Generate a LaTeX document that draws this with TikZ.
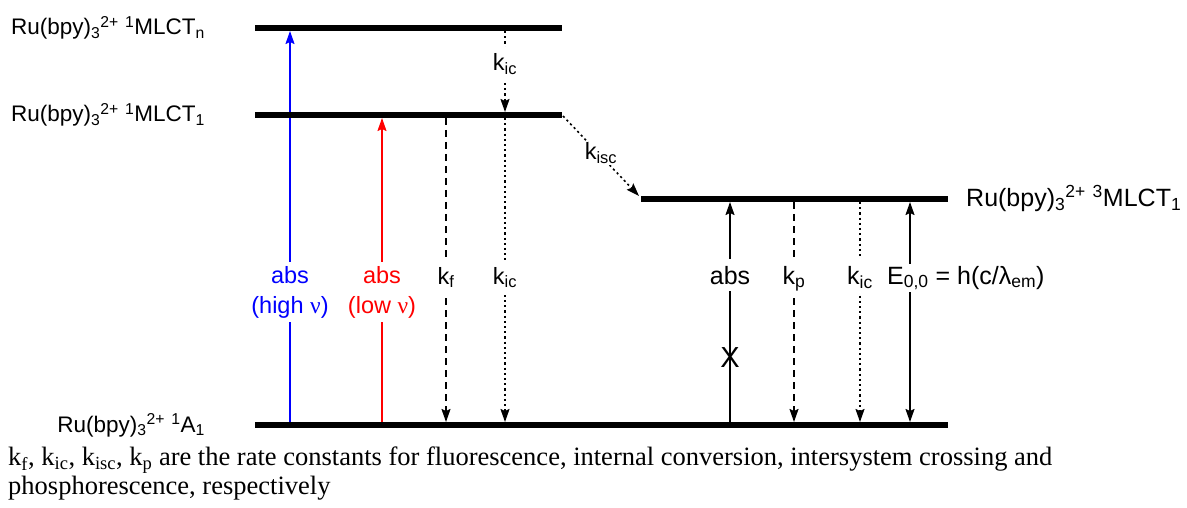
\documentclass[tikz,border=0pt]{standalone}
\usepackage{fontspec}
\setmainfont{Liberation Sans}
\newfontfamily\capfont{Liberation Serif}
\usetikzlibrary{arrows.meta}
\newcommand\lsub[1]{\textsubscript{#1}}
\newcommand\lsup[1]{\textsuperscript{#1}}
\newcommand\gnu{{\capfont ν}}
\tikzset{
  level/.style={line width=6pt},
  arr/.style={line width=1.6pt,-{Stealth[length=13pt,width=9pt,inset=2pt]}},
  darr/.style={line width=1.6pt,{Stealth[length=13pt,width=9pt,inset=2pt]}-{Stealth[length=13pt,width=9pt,inset=2pt]}},
  dashedarr/.style={arr,dash pattern=on 7pt off 5pt},
  dottedarr/.style={arr,dash pattern=on 2.2pt off 3pt},
  lvlabel/.style={inner sep=0pt},
  bigfont/.style={font=\fontsize{25}{30}\selectfont},
  rlabel/.style={fill=white,inner xsep=1pt,inner ysep=7pt,anchor=base},
  rlabel2/.style={fill=white,inner xsep=1pt,inner ysep=4pt,align=center},
}
\begin{document}
\begin{tikzpicture}[x=1pt,y=-1pt,font=\fontsize{23.5}{30}\selectfont]
\useasboundingbox (0,0) rectangle (1187,508);
% level coordinates
\coordinate (nL) at (255,28);  \coordinate (nR) at (562,28);
\coordinate (oL) at (255,115); \coordinate (oR) at (562,115);
\coordinate (tL) at (641,199); \coordinate (tR) at (948,199);
\coordinate (gL) at (255,425); \coordinate (gR) at (948,425);
% arrow end points
\coordinate (b0) at (290,425); \coordinate (b1) at (290,31);
\coordinate (r0) at (382,425); \coordinate (r1) at (382,118);
\coordinate (f0) at (446,118); \coordinate (f1) at (446,422);
\coordinate (i0) at (505,31);  \coordinate (i1) at (505,112);
\coordinate (j0) at (505,118); \coordinate (j1) at (505,422);
\coordinate (s0) at (563,116); \coordinate (s1) at (639,196);
\coordinate (a0) at (730,425); \coordinate (a1) at (730,202);
\coordinate (p0) at (794,202); \coordinate (p1) at (794,422);
\coordinate (c0) at (860,202); \coordinate (c1) at (860,422);
\coordinate (e0) at (910,202); \coordinate (e1) at (910,422);
% arrows
\draw[arr,blue] (b0) -- (b1);
\draw[arr,red] (r0) -- (r1);
\draw[dashedarr] (f0) -- (f1);
\draw[dottedarr] (i0) -- (i1);
\draw[dottedarr] (j0) -- (j1);
\draw[dottedarr] (s0) -- (s1);
\draw[arr] (a0) -- (a1);
\draw[dashedarr] (p0) -- (p1);
\draw[dottedarr] (c0) -- (c1);
\draw[darr] (e0) -- (e1);
% levels
\draw[level] (nL) -- (nR);
\draw[level] (oL) -- (oR);
\draw[level] (tL) -- (tR);
\draw[level] (gL) -- (gR);
% level labels
\begin{scope}[font=\fontsize{22.5}{30}\selectfont]
\node[lvlabel,anchor=base east] (ln) at (205,35) {Ru(bpy)\lsub{3}\lsup{2+} \lsup{1}MLCT\lsub{n}};
\node[lvlabel,anchor=base east] (lo) at (205,122) {Ru(bpy)\lsub{3}\lsup{2+} \lsup{1}MLCT\lsub{1}};
\node[lvlabel,anchor=base east] (lg) at (205,432) {Ru(bpy)\lsub{3}\lsup{2+} \lsup{1}A\lsub{1}};
\end{scope}
\node[lvlabel,bigfont,anchor=base west] (lt) at (966,207) {Ru(bpy)\lsub{3}\lsup{2+} \lsup{3}MLCT\lsub{1}};
% arrow labels
\node[rlabel2,text=blue] (lb) at (290,292) {abs\\(high \gnu)};
\node[rlabel2,text=red] (lr) at (382,292) {abs\\(low \gnu)};
\node[rlabel] (lf) at (446,284) {k\lsub{f}};
\node[rlabel] (lj) at (505,284) {k\lsub{ic}};
\node[rlabel] (li) at (505,71) {k\lsub{ic}};
\node[fill=white,inner sep=1pt,anchor=base] (ls) at (601,160) {k\lsub{isc}};
\node[rlabel,bigfont] (la) at (730,284) {abs};
\node[rlabel,bigfont] (lp) at (794,284) {k\lsub{p}};
\node[rlabel,bigfont] (lc) at (860,284) {k\lsub{ic}};
\node[fill=white,inner xsep=0pt,inner ysep=2pt,anchor=base west,bigfont] (le) at (887,284) {E\lsub{0,0} = h(c/λ\lsub{em})};
\node[font=\fontsize{29}{30}\selectfont,inner sep=0pt] (x) at (730,358) {X};
% caption
\node[anchor=north west,align=left,inner sep=0pt,font=\capfont\fontsize{26.5}{29}\selectfont] (cap) at (8,447)
 {k\lsub{f}, k\lsub{ic}, k\lsub{isc}, k\lsub{p} are the rate constants for fluorescence, internal conversion, intersystem crossing and\\
  phosphorescence, respectively};
\end{tikzpicture}
\end{document}
